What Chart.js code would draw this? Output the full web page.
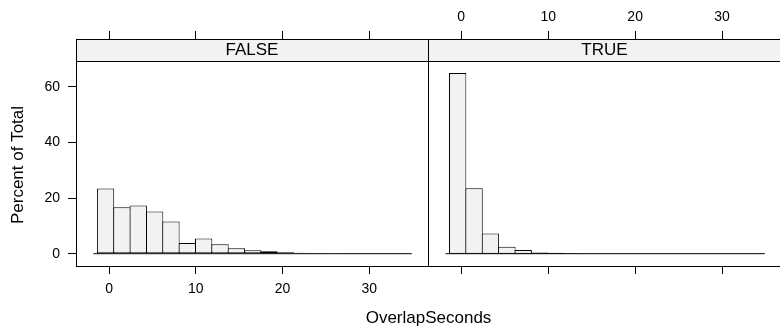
<!DOCTYPE html>
<html>
<head>
<meta charset="utf-8">
<script src="https://cdn.jsdelivr.net/npm/chart.js@4.4.0/dist/chart.umd.min.js"></script>
<style>
html, body { margin: 0; padding: 0; background: #fff; }
#wrap { position: relative; width: 780px; height: 330px; overflow: hidden; background: #fff; }
canvas { position: absolute; left: 0; top: 0; }
</style>
</head>
<body>
<div id="wrap">
  <canvas id="falseChart" width="780" height="330"></canvas>
  <canvas id="trueChart" width="790" height="330"></canvas>
</div>
<script>
// histogram bin centres (seconds) and percent of total per panel
const binCenters = [-0.41, 1.48, 3.36, 5.25, 7.13, 9.02, 10.9, 12.79, 14.67, 16.56, 18.44, 20.33, 22.21, 24.1, 25.98, 27.87, 29.75, 31.64, 33.52];
const falsePct = [23.4, 16.7, 17.3, 15.2, 11.6, 3.8, 5.5, 3.4, 2.0, 1.2, 0.85, 0.5, 0.35, 0.25, 0.15, 0.1, 0.1, 0.05, 0.05];
const truePct = [64.9, 23.5, 7.3, 2.5, 1.3, 0.45, 0.35, 0.2, 0.1, 0.1, 0.05, 0.05, 0.05, 0.08, 0.05, 0.03, 0.03, 0.03, 0.03];
const baseRange = [-1.8, 34.9];
const xTicks = [0, 10, 20, 30];
const yTicks = [0, 20, 40, 60];
const panelNames = ["FALSE", "TRUE"];
const xTitle = "OverlapSeconds";
const yTitle = "Percent of Total";

Chart.defaults.font.family = "'Liberation Sans', Arial, Helvetica, sans-serif";
Chart.defaults.color = '#000';

const fixTicks = vals => scale => { scale.ticks = vals.map(v => ({ value: v })); };

// strip + panel border (lattice style)
const panelFrame = {
  id: 'panelFrame',
  afterDraw(chart, args, opts) {
    const { ctx, chartArea: a } = chart;
    const h = 22;
    ctx.save();
    ctx.fillStyle = '#f2f2f2';
    ctx.fillRect(a.left, a.top, a.right - a.left, h);
    ctx.strokeStyle = '#000';
    ctx.lineWidth = 1;
    ctx.strokeRect(a.left + 0.5, a.top + 0.5, a.right - a.left, h);
    ctx.strokeRect(a.left + 0.5, a.top + 0.5, a.right - a.left, a.bottom - a.top);
    ctx.fillStyle = '#000';
    ctx.font = "17px 'Liberation Sans', Arial, sans-serif";
    ctx.textAlign = 'center';
    ctx.textBaseline = 'middle';
    ctx.fillText(opts.name, (a.left + a.right) / 2, a.top + h / 2 + 0.5);
    if (opts.titles) {
      ctx.fillText(xTitle, 428.5, 318);
      ctx.translate(18.7, 165);
      ctx.rotate(-Math.PI / 2);
      ctx.fillText(yTitle, 0, 0);
    }
    ctx.restore();
  }
};

function xAxis(position, showLabels, height, pad) {
  return {
    type: 'linear',
    position: position,
    offset: false,
    min: -3.82,
    max: 36.77,
    afterBuildTicks: fixTicks(xTicks),
    afterFit: s => { s.height = height; },
    grid: { offset: false, drawOnChartArea: false, drawTicks: true, tickLength: 8, tickColor: '#000', tickWidth: 1 },
    border: { display: true, color: '#000', width: 1 },
    ticks: { display: showLabels, padding: pad, font: { size: 14 }, maxRotation: 0 }
  };
}

function makePanel(id, values, idx) {
  const left = idx === 0;
  return new Chart(document.getElementById(id), {
    type: 'bar',
    data: {
      datasets: [
        {
          type: 'line',
          data: baseRange.map(x => ({ x: x, y: 0 })),
          borderColor: '#000',
          borderWidth: 1,
          pointRadius: 0,
          order: 0
        },
        {
          data: binCenters.map((c, i) => ({ x: c, y: values[i] })),
          backgroundColor: '#f2f2f2',
          borderColor: '#000',
          borderWidth: 1,
          borderSkipped: false,
          barPercentage: 1.061,
          categoryPercentage: 1,
          inflateAmount: 0,
          order: 1
        }
      ]
    },
    options: {
      responsive: false,
      animation: false,
      layout: { padding: left ? { left: 0, right: 352, top: 0, bottom: 0 } : { left: 428, right: 9, top: 0, bottom: 0 } },
      plugins: {
        legend: { display: false },
        tooltip: { enabled: false },
        panelFrame: { name: panelNames[idx], titles: left }
      },
      scales: {
        x: xAxis('bottom', left, 64, 7),
        x2: xAxis('top', !left, 39, 5),
        y: {
          display: left,
          min: -4.42,
          max: 77.14,
          afterBuildTicks: fixTicks(yTicks),
          afterFit: s => { s.width = left ? 76 : 0; },
          grid: { drawOnChartArea: false, tickLength: 8, tickColor: '#000' },
          border: { display: true, color: '#000', width: 1 },
          ticks: { padding: 8, font: { size: 14 } }
        }
      }
    },
    plugins: [panelFrame]
  });
}

makePanel('falseChart', falsePct, 0);
makePanel('trueChart', truePct, 1);
</script>
</body>
</html>
